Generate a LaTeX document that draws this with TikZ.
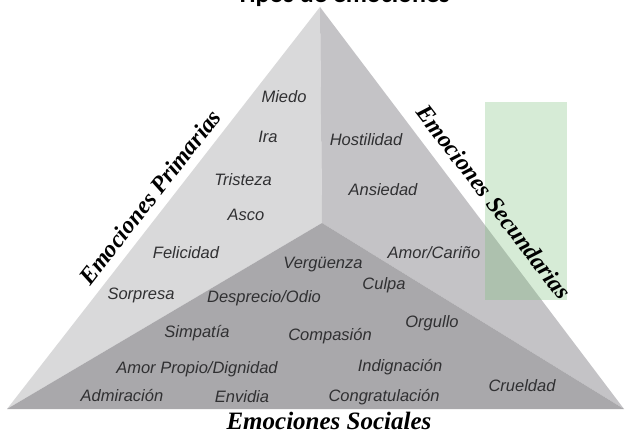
\documentclass[tikz,border=0pt]{standalone}
\usepackage{fontspec}
\setmainfont{Liberation Serif}
\setsansfont{Liberation Sans}
\newfontfamily\titlefont{Carlito}
\usepackage{xcolor}
\definecolor{caraPrim}{HTML}{D9D9DA}
\definecolor{caraSec}{HTML}{C4C3C6}
\definecolor{caraSoc}{HTML}{A9A8AB}
\definecolor{textoEmo}{HTML}{303032}
\definecolor{marcaVerde}{HTML}{78BE78}

\begin{document}
\begin{tikzpicture}[x=1pt,y=-1pt,
    emo/.style={font=\sffamily\itshape\fontsize{16.5}{16.5}\selectfont,text=textoEmo,inner sep=0pt},
    grupo/.style={font=\rmfamily\bfseries\itshape\fontsize{24}{24}\selectfont,inner sep=0pt}]
      \useasboundingbox (0,0) rectangle (626,435);
      \coordinate (T) at (320,7);
      \coordinate (L) at (7,409);
      \coordinate (R) at (624,409);
      \coordinate (M) at (322,223);
      % caras de la piramide
      \fill [caraPrim] (T) -- (L) -- (M) -- cycle;
      \fill [caraSec] (T) -- (M) -- (R) -- cycle;
      \fill [caraSoc] (M) -- (L) -- (R) -- cycle;
      \fill [marcaVerde,opacity=.3] (485,102) rectangle (567,300);
      \node [font=\titlefont\bfseries\fontsize{26}{26}\selectfont,anchor=base] (tit) at (343,3) {Tipos de emociones};
      % primarias
      \node [emo] (miedo) at (284,97) {Miedo};
      \node [emo] (ira) at (268,137) {Ira};
      \node [emo] (tristeza) at (243,180) {Tristeza};
      \node [emo] (asco) at (246,215) {Asco};
      \node [emo] (felicidad) at (186,253) {Felicidad};
      \node [emo] (sorpresa) at (141,295) {Sorpresa};
      % secundarias
      \node [emo] (hostilidad) at (366,140) {Hostilidad};
      \node [emo] (ansiedad) at (383,190) {Ansiedad};
      \node [emo] (amor) at (434,253) {Amor/Cariño};
      % sociales
      \node [emo] (verguenza) at (323,265) {Vergüenza};
      \node [emo] (culpa) at (384,285) {Culpa};
      \node [emo] (desprecio) at (264,298) {Desprecio/Odio};
      \node [emo] (orgullo) at (432,323) {Orgullo};
      \node [emo] (simpatia) at (197,333) {Simpatía};
      \node [emo] (compasion) at (330,336) {Compasión};
      \node [emo] (amorpropio) at (197,369) {Amor Propio/Dignidad};
      \node [emo] (indignacion) at (400,367) {Indignación};
      \node [emo] (admiracion) at (122,396) {Admiración};
      \node [emo] (envidia) at (242,397) {Envidia};
      \node [emo] (congrat) at (384,397) {Congratulación};
      \node [emo] (crueldad) at (522,386) {Crueldad};
      % nombres de los grupos
      \node [grupo,rotate=52] (prim) at (150,197) {Emociones Primarias};
      \node [grupo,rotate=-52.5] (sec) at (494,202) {Emociones Secundarias};
      \node [grupo,font=\rmfamily\bfseries\itshape\fontsize{25}{25}\selectfont] (soc) at (329,421) {Emociones Sociales};
\end{tikzpicture}
\end{document}
